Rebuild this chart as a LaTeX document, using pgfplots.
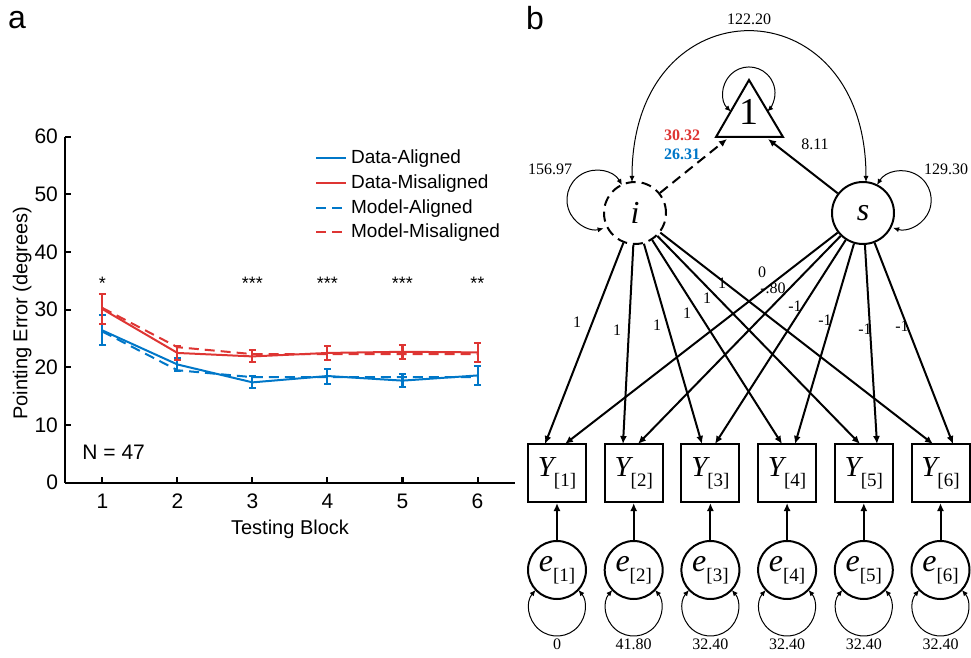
\documentclass[border=0pt]{standalone}
\usepackage{fontspec}
\setmainfont{Liberation Serif}
\newfontfamily\arial{Liberation Sans}
\usepackage{pgfplots}
\pgfplotsset{compat=1.18}
\usetikzlibrary{arrows.meta}
\definecolor{cblue}{RGB}{0,119,200}
\definecolor{cred}{RGB}{222,53,51}
\newcommand\nf{\fontsize{8}{9}\selectfont}
\newcommand\Yl[1]{{\fontsize{14.5}{15}\selectfont\itshape Y}\raisebox{-5pt}{\fontsize{9.5}{10}\selectfont[#1]}}
\newcommand\El[1]{{\fontsize{16}{16}\selectfont\itshape e}\raisebox{-5pt}{\fontsize{9.5}{10}\selectfont[#1]}}
\pgfplotstableread{
x y e
1 26.4 2.6
2 20.5 1.1
3 17.4 1.05
4 18.5 1.3
5 17.7 1.15
6 18.6 1.65
}\dataA
\pgfplotstableread{
x y e
1 30.1 2.55
2 22.5 1.25
3 21.9 1.05
4 22.5 1.2
5 22.7 1.25
6 22.6 1.6
}\dataM
\pgfplotstableread{
x y
1 26.2
2 19.5
3 18.3
4 18.3
5 18.3
6 18.3
}\modelA
\pgfplotstableread{
x y
1 30.3
2 23.5
3 22.3
4 22.3
5 22.3
6 22.3
}\modelM
\begin{document}
\begin{tikzpicture}
\useasboundingbox (0,0) rectangle (485.5pt,-329pt);
\begin{axis}[
  scale only axis, width=225pt, height=173pt,
  at={(32.5pt,-241.35pt)}, anchor=south west,
  xmin=0.5, xmax=6.5, ymin=0, ymax=60,
  xtick={1,2,3,4,5,6}, ytick={0,10,20,30,40,50,60},
  axis x line*=bottom, axis y line*=left,
  axis line style={-, line width=1pt},
  tick align=inside, major tick length=3pt,
  tick style={line width=1pt, black},
  ticklabel style={font=\arial\fontsize{10.5}{12}\selectfont},
  xticklabel style={yshift=-2pt},
  /pgf/number format/assume math mode=true,
  xlabel={Testing Block}, ylabel={Pointing Error (degrees)},
  label style={font=\arial\fontsize{10}{12}\selectfont},
  x label style={at={(axis description cs:0.5,-0.135)}, anchor=center},
  y label style={at={(axis description cs:-0.095,0.49)}, anchor=center},
  legend style={at={(rel axis cs:0.555,0.975)}, anchor=north west, draw=none, fill=none,
    inner sep=0pt, font=\arial\fontsize{9.5}{11}\selectfont, row sep=0pt},
  legend cell align=left,
  legend image code/.code={\draw[#1] (0pt,0pt) -- (15pt,0pt);},
]
\addplot[cblue, line width=1pt, error bars/.cd, y dir=both, y explicit,
  error bar style={line width=1pt, cblue},
  error mark options={rotate=90, mark size=1.8pt, line width=1pt, cblue}]
  table[x=x, y=y, y error=e] {\dataA};
\addlegendentry{Data-Aligned}
\addplot[cred, line width=1pt, error bars/.cd, y dir=both, y explicit,
  error bar style={line width=1pt, cred},
  error mark options={rotate=90, mark size=1.8pt, line width=1pt, cred}]
  table[x=x, y=y, y error=e] {\dataM};
\addlegendentry{Data-Misaligned}
\addplot[cblue, line width=1pt, dash pattern=on 5pt off 3pt] table[x=x, y=y] {\modelA};
\addlegendentry{Model-Aligned}
\addplot[cred, line width=1pt, dash pattern=on 5pt off 3pt] table[x=x, y=y] {\modelM};
\addlegendentry{Model-Misaligned}
\node[font=\arial\fontsize{9}{9}\selectfont] at (axis cs:1,34.5) {*};
\node[font=\arial\fontsize{9}{9}\selectfont] at (axis cs:3,34.5) {***};
\node[font=\arial\fontsize{9}{9}\selectfont] at (axis cs:4,34.5) {***};
\node[font=\arial\fontsize{9}{9}\selectfont] at (axis cs:5,34.5) {***};
\node[font=\arial\fontsize{9}{9}\selectfont] at (axis cs:6,34.5) {**};
\node[anchor=west, inner sep=0pt, font=\arial\fontsize{10.5}{12}\selectfont] at (axis cs:0.727,5.3) {N = 47};
\end{axis}
\begin{scope}[x=0.5pt, y=-0.5pt,
  lat/.style={circle, draw, line width=1pt, minimum size=31pt, inner sep=0pt},
  ar/.style={-{Latex[length=4pt,width=3.5pt]}, line width=1pt},
  var/.style={{Latex[length=3pt,width=2.6pt]}-{Latex[length=3pt,width=2.6pt]}, line width=0.5pt}]
\node[font=\arial\fontsize{16}{16}\selectfont] at (17,20) {a};
\node[font=\arial\fontsize{16}{16}\selectfont] at (535,18) {b};
% latent nodes
\node[lat, dash pattern=on 5pt off 3pt] (i) at (635,213) {\fontsize{16}{16}\selectfont\itshape i};
\node[lat] (s) at (863,213) {\fontsize{16}{16}\selectfont\itshape s};
% triangle
\draw[line width=1pt, line join=miter] (716,137) -- (749,80) -- (783,137) -- cycle;
\node at (749,112) {\fontsize{19}{19}\selectfont 1};
\draw[var] (730.8,111.5) arc[start angle=134.5, end angle=405.5, radius=26];
\draw[ar, dash pattern=on 5pt off 3pt] (i) -- (727,139);
\draw[ar] (s) -- (768,139);
\draw[var] (632,182) .. controls (632,-18) and (866,-18) .. (866,182);
\draw[var] (622,185) arc[start angle=-30, end angle=-284, radius=29.5];
\draw[var] (877,185) arc[start angle=211, end angle=467.8, radius=29.2];
\node[font=\nf] at (749,19) {122.20};
\node[font=\nf] at (550,169) {156.97};
\node[font=\nf] at (946,169) {129.30};
\node[font=\nf] at (815,144) {8.11};
\node[font=\nf\bfseries, text=cred] at (682,135) {30.32};
\node[font=\nf\bfseries, text=cblue] at (682,154) {26.31};
% observed and errors
\foreach \j/\cx/\v/\ti/\ts in {1/557/0/545/565, 2/633.7/41.80/623/638, 3/710.4/32.40/702/715, 4/787.1/32.40/782/795, 5/863.8/32.40/860/877, 6/940.5/32.40/933/953} {
  \node[draw, line width=1pt, minimum width=29pt, minimum height=29pt, inner sep=0pt] (Y\j) at (\cx,473) {\Yl{\j}};
  \node[circle, draw, line width=1pt, minimum size=29pt, inner sep=0pt] (e\j) at (\cx,570) {\El{\j}};
  \draw[ar] (e\j) -- (Y\j);
  \draw[var] (\cx-21.4,590) arc[start angle=220.1, end angle=-40.1, radius=28];
  \node[font=\nf] at (\cx,644) {\v};
  \draw[ar] (i) -- (\ti,444);
  \draw[ar] (s) -- (\ts,444);
}
% loadings
\node[font=\nf] at (577,322) {1};
\node[font=\nf] at (617,330) {1};
\node[font=\nf] at (657,325) {1};
\node[font=\nf] at (687,313) {1};
\node[font=\nf] at (707,298) {1};
\node[font=\nf] at (722,283) {1};
\node[font=\nf] at (762,272) {0};
\node[font=\nf] at (773,288) {-.80};
\node[font=\nf] at (795,306) {-1};
\node[font=\nf] at (825,320) {-1};
\node[font=\nf] at (865,329) {-1};
\node[font=\nf] at (902,326) {-1};
\end{scope}
\end{tikzpicture}
\end{document}
